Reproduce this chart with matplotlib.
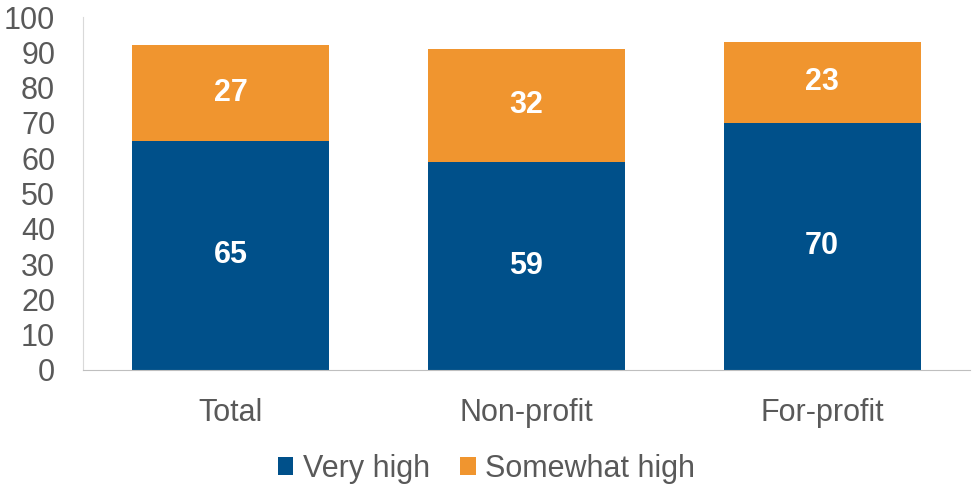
import numpy as np
import matplotlib.pyplot as plt

plt.rcParams['font.family'] = ['Liberation Sans', 'DejaVu Sans']

categories = ['Total', 'Non-profit', 'For-profit']
very_high = [65, 59, 70]
somewhat_high = [27, 32, 23]

blue = '#00508A'
orange = '#F0952F'

fig = plt.figure(figsize=(9.73, 4.86), dpi=100)
ax = fig.add_axes([0.0853, 0.2387, 0.9116, 0.7263])

x = np.arange(len(categories))
b1 = ax.bar(x, very_high, width=0.667, color=blue, label='Very high')
b2 = ax.bar(x, somewhat_high, width=0.667, bottom=very_high, color=orange, label='Somewhat high')

for i in range(len(categories)):
    ax.text(x[i], very_high[i] / 2, str(very_high[i]), ha='center', va='center',
            color='white', fontsize=22, fontweight='bold')
    ax.text(x[i], very_high[i] + somewhat_high[i] / 2, str(somewhat_high[i]), ha='center',
            va='center', color='white', fontsize=22, fontweight='bold')

ax.set_xlim(-0.5, 2.5)
ax.set_ylim(0, 100)
ax.set_yticks(range(0, 101, 10))
ax.set_xticks(x)
ax.set_xticklabels(categories)
ax.tick_params(axis='both', length=0, labelsize=22, colors='#595959')
ax.tick_params(axis='x', pad=20)
ax.tick_params(axis='y', pad=20)
for s in ['top', 'right']:
    ax.spines[s].set_visible(False)
ax.spines['bottom'].set_color('#BFBFBF')
ax.spines['left'].set_color('#D9D9D9')

fig.legend(handles=[b1, b2], loc='center', bbox_to_anchor=(0.5, 17 / 486), ncol=2,
           frameon=False, fontsize=22, handlelength=0.5, handleheight=0.5,
           columnspacing=1.0, handletextpad=0.3, labelcolor='#595959')

fig.savefig('out.png', dpi=100)
